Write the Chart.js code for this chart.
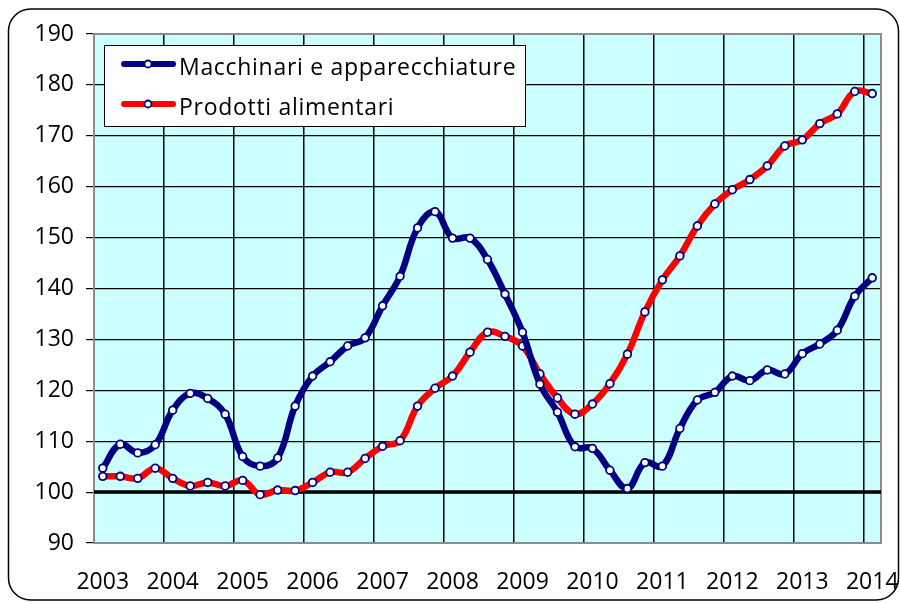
<!DOCTYPE html>
<html lang="it">
<head>
<meta charset="UTF-8" />
<title>Macchinari e prodotti alimentari</title>
<script src="https://cdn.jsdelivr.net/npm/chart.js"></script>
<style>
  html, body { margin: 0; padding: 0; background: #fff; }
  #wrap { width: 900px; height: 603px; position: relative; }
</style>
</head>
<body>
<div id="wrap"><canvas id="chart"></canvas></div>

<script>
  // quarterly data, 2003 T1 .. 2014 T1
  const years = ['2003', '2004', '2005', '2006', '2007', '2008', '2009', '2010', '2011', '2012', '2013', '2014'];
  const quarters = ['T1', 'T2', 'T3', 'T4'];

  const macchinari = [
    104.7, 109.4, 107.7, 109.3,
    116.1, 119.4, 118.4, 115.3,
    107.0, 105.1, 106.7, 116.9,
    122.8, 125.6, 128.7, 130.3,
    136.6, 142.4, 151.9, 155.1,
    149.9, 149.9, 145.7, 138.9,
    131.4, 121.2, 115.7, 108.9,
    108.6, 104.3, 100.7, 105.8,
    105.1, 112.5, 118.1, 119.6,
    122.8, 121.9, 124.0, 123.2,
    127.2, 129.1, 131.8, 138.5,
    142.1
  ];

  const alimentari = [
    103.1, 103.1, 102.7, 104.7,
    102.7, 101.2, 101.9, 101.2,
    102.3, 99.5, 100.4, 100.3,
    101.9, 103.9, 103.9, 106.6,
    109.0, 110.1, 116.9, 120.4,
    122.8, 127.5, 131.4, 130.6,
    128.7, 123.2, 118.5, 115.3,
    117.3, 121.3, 127.1, 135.4,
    141.7, 146.4, 152.3, 156.6,
    159.4, 161.4, 164.1, 168.0,
    169.2, 172.4, 174.3, 178.7,
    178.3
  ];

  const yMin = 90;
  const yMax = 190;
  const yStep = 10;
  const baseLine = 100;

  const labels = years.flatMap(y => quarters.map(q => y + ' ' + q)).slice(0, macchinari.length);

  const FONT = '"Open Sans", "Noto Sans", sans-serif';

  // plot background, frame, legend and rounded outer border
  const decorations = {
    id: 'decorations',
    beforeDraw(chart) {
      const { ctx, chartArea: a } = chart;
      ctx.save();
      ctx.fillStyle = '#fff';
      ctx.fillRect(0, 0, chart.width, chart.height);
      ctx.fillStyle = '#ccffff';
      ctx.fillRect(a.left, a.top, a.right - a.left, a.bottom - a.top);
      ctx.restore();
    },
    beforeDatasetsDraw(chart) {
      const { ctx, chartArea: a } = chart;
      ctx.save();
      ctx.strokeStyle = '#8c8c8c';
      ctx.lineWidth = 2;
      ctx.strokeRect(a.left, a.top, a.right - a.left, a.bottom - a.top);
      // heavy line at the base value
      const y = chart.scales.y.getPixelForValue(baseLine);
      ctx.strokeStyle = '#000';
      ctx.lineWidth = 3.5;
      ctx.beginPath();
      ctx.moveTo(a.left, y);
      ctx.lineTo(a.right, y);
      ctx.stroke();
      ctx.restore();
    },
    afterDatasetsDraw(chart) {
      const ctx = chart.ctx;
      ctx.save();
      ctx.fillStyle = '#fff';
      ctx.fillRect(104.5, 45.5, 421, 81);
      ctx.strokeStyle = '#000';
      ctx.lineWidth = 1;
      ctx.strokeRect(104.5, 45.5, 421, 81);
      chart.data.datasets.forEach((ds, i) => {
        const ly = 64 + i * 40;
        ctx.beginPath();
        ctx.lineCap = 'round';
        ctx.lineWidth = 6;
        ctx.strokeStyle = ds.borderColor;
        ctx.moveTo(124, ly);
        ctx.lineTo(173, ly);
        ctx.stroke();
        ctx.beginPath();
        ctx.arc(148, ly, 3.5, 0, Math.PI * 2);
        ctx.fillStyle = '#fff';
        ctx.fill();
        ctx.lineWidth = 1.8;
        ctx.strokeStyle = '#000080';
        ctx.stroke();
        ctx.fillStyle = '#000';
        ctx.font = '23px ' + FONT;
        ctx.letterSpacing = '0.7px';
        ctx.textBaseline = 'alphabetic';
        ctx.fillText(ds.label, 179, ly + 11);
      });
      ctx.restore();
    },
    afterDraw(chart) {
      const ctx = chart.ctx;
      ctx.save();
      ctx.strokeStyle = '#000';
      ctx.lineWidth = 1.5;
      ctx.beginPath();
      ctx.roundRect(8.5, 9, 890, 591, 22);
      ctx.stroke();
      ctx.restore();
    }
  };

  new Chart(document.getElementById('chart'), {
    type: 'line',
    data: {
      labels: labels,
      datasets: [
        {
          label: 'Macchinari e apparecchiature',
          data: macchinari,
          borderColor: '#000080',
          borderWidth: 6.5,
          tension: 0.4,
          pointRadius: 3.8,
          pointBorderWidth: 1.8,
          pointBackgroundColor: '#fff',
          pointBorderColor: '#000080'
        },
        {
          label: 'Prodotti alimentari',
          data: alimentari,
          borderColor: '#ff0000',
          borderWidth: 6.5,
          tension: 0.4,
          pointRadius: 3.8,
          pointBorderWidth: 1.8,
          pointBackgroundColor: '#fff',
          pointBorderColor: '#000080'
        }
      ]
    },
    options: {
      responsive: true,
      maintainAspectRatio: false,
      animation: false,
      layout: { padding: { left: 10, right: 19, top: 34, bottom: 0 } },
      plugins: {
        legend: { display: false },
        tooltip: { enabled: false }
      },
      scales: {
        x: {
          offset: true,
          grid: {
            offset: true,
            drawTicks: false,
            color: c => (c.index > 0 && c.index < labels.length && c.index % 4 === 0) ? '#000' : 'rgba(0,0,0,0)',
            lineWidth: 1.5
          },
          border: { display: false },
          ticks: {
            autoSkip: false,
            maxRotation: 0,
            minRotation: 0,
            padding: 26,
            color: '#000',
            font: { family: FONT, size: 23 },
            callback: (v, i) => i % 4 === 0 ? years[i / 4] : ''
          },
          afterFit: s => { s.height = 60; s.paddingLeft = 0; s.paddingRight = 0; }
        },
        y: {
          min: yMin,
          max: yMax,
          grid: {
            color: '#000',
            lineWidth: 1.2,
            tickLength: 8
          },
          border: { display: false },
          ticks: {
            stepSize: yStep,
            padding: 12,
            color: '#000',
            font: { family: FONT, size: 23 }
          },
          afterFit: s => { s.width = 84; s.paddingTop = 0; s.paddingBottom = 0; }
        }
      }
    },
    plugins: [decorations]
  });
</script>
</body>
</html>
